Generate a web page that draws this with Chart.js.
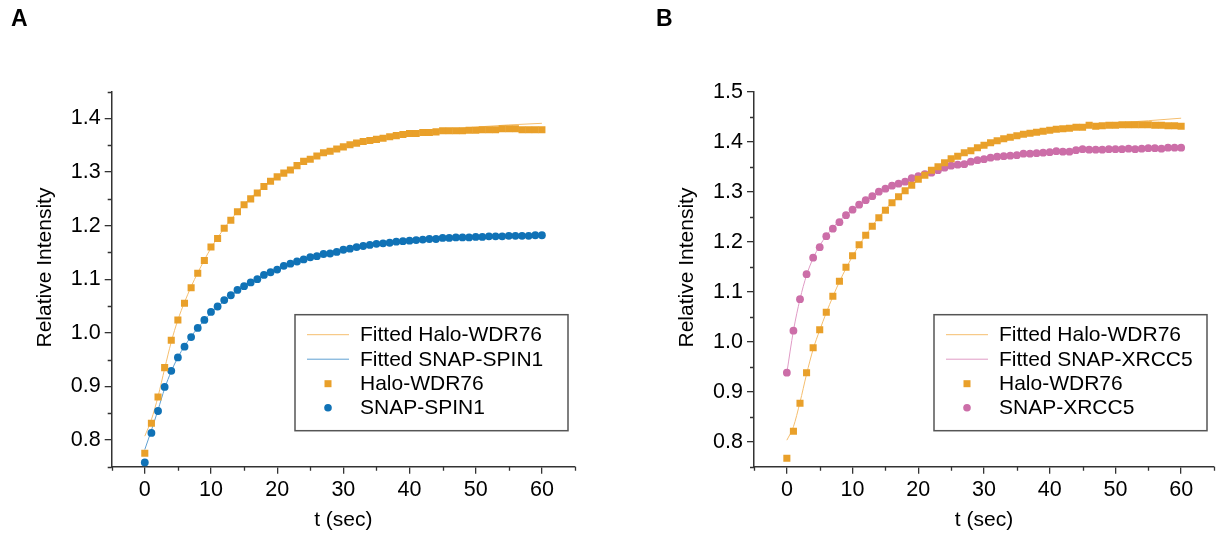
<!DOCTYPE html>
<html>
<head>
<meta charset="utf-8">
<title>Relative Intensity</title>
<script src="https://cdn.jsdelivr.net/npm/chart.js@4.4.1/dist/chart.umd.min.js"></script>
<style>
  body { margin: 0; background: #fff; width: 1219px; height: 536px; position: relative; overflow: hidden; }
  .panel { position: absolute; top: 0; }
  .tag { position: absolute; top: 5px; font: bold 23px "Liberation Sans", Arial, sans-serif; color: #000; }
</style>
</head>
<body>
<canvas id="chartA" class="panel" style="left:0" width="609" height="536"></canvas>
<canvas id="chartB" class="panel" style="left:609px" width="610" height="536"></canvas>
<div class="tag" style="left:11px">A</div>
<div class="tag" style="left:656px">B</div>

<script>
// tiempo de medición (s)
const time = [0, 1, 2, 3, 4, 5, 6, 7, 8, 9, 10, 11, 12, 13, 14, 15, 16, 17, 18, 19, 20,
  21, 22, 23, 24, 25, 26, 27, 28, 29, 30, 31, 32, 33, 34, 35, 36, 37, 38, 39, 40,
  41, 42, 43, 44, 45, 46, 47, 48, 49, 50, 51, 52, 53, 54, 55, 56, 57, 58, 59, 60];

// Panel A: medidas
const haloA = [0.775, 0.831, 0.880, 0.935, 0.986, 1.024, 1.055, 1.084, 1.111, 1.135,
  1.160, 1.176, 1.195, 1.210, 1.226, 1.239, 1.250, 1.261, 1.273, 1.283,
  1.291, 1.298, 1.304, 1.312, 1.320, 1.324, 1.330, 1.336, 1.339, 1.343,
  1.347, 1.351, 1.354, 1.357, 1.359, 1.361, 1.363, 1.366, 1.368, 1.370,
  1.372, 1.372, 1.374, 1.374, 1.375, 1.377, 1.377, 1.377, 1.377, 1.378,
  1.378, 1.379, 1.379, 1.379, 1.381, 1.381, 1.381, 1.379, 1.379, 1.379, 1.379];
const spinA = [0.758, 0.813, 0.854, 0.899, 0.929, 0.954, 0.974, 0.992, 1.009, 1.024,
  1.039, 1.049, 1.061, 1.070, 1.080, 1.087, 1.094, 1.100, 1.108, 1.113,
  1.118, 1.125, 1.129, 1.133, 1.137, 1.141, 1.143, 1.147, 1.148, 1.151,
  1.155, 1.157, 1.160, 1.162, 1.164, 1.166, 1.167, 1.168, 1.170, 1.171,
  1.172, 1.173, 1.174, 1.175, 1.175, 1.177, 1.177, 1.178, 1.178, 1.178,
  1.179, 1.179, 1.180, 1.180, 1.180, 1.181, 1.181, 1.181, 1.181, 1.182, 1.182];

// Panel B: medidas
const haloB = [0.767, 0.821, 0.877, 0.938, 0.988, 1.024, 1.059, 1.091, 1.121, 1.149,
  1.172, 1.194, 1.213, 1.231, 1.248, 1.263, 1.278, 1.290, 1.302, 1.313,
  1.325, 1.333, 1.343, 1.350, 1.358, 1.366, 1.371, 1.378, 1.382, 1.388,
  1.393, 1.398, 1.402, 1.406, 1.409, 1.412, 1.415, 1.417, 1.419, 1.421,
  1.423, 1.425, 1.426, 1.427, 1.429, 1.429, 1.433, 1.431, 1.432, 1.433,
  1.433, 1.434, 1.434, 1.434, 1.434, 1.434, 1.433, 1.433, 1.432, 1.432, 1.431];
const xrccB = [0.938, 1.022, 1.085, 1.135, 1.168, 1.189, 1.211, 1.226, 1.239, 1.253,
  1.264, 1.274, 1.283, 1.291, 1.300, 1.306, 1.312, 1.316, 1.320, 1.327,
  1.331, 1.335, 1.338, 1.343, 1.348, 1.352, 1.354, 1.355, 1.360, 1.363,
  1.365, 1.368, 1.370, 1.371, 1.372, 1.373, 1.376, 1.376, 1.377, 1.378,
  1.379, 1.381, 1.380, 1.380, 1.383, 1.385, 1.384, 1.384, 1.384, 1.385,
  1.385, 1.385, 1.386, 1.385, 1.386, 1.387, 1.387, 1.386, 1.388, 1.388, 1.388];

// curvas ajustadas
const fitTime = [0, 1, 2, 3, 4, 5, 6, 7, 8, 10, 12, 14, 16, 18, 20, 25, 30, 35, 40, 45, 50, 55, 60];
const fitHaloA = [0.807, 0.838, 0.881, 0.933, 0.983, 1.024, 1.057, 1.086, 1.112, 1.158, 1.195, 1.226,
  1.252, 1.273, 1.291, 1.324, 1.347, 1.362, 1.374, 1.379, 1.384, 1.388, 1.391];
const fitSpinA = [0.782, 0.818, 0.856, 0.896, 0.928, 0.954, 0.975, 0.993, 1.009, 1.037, 1.059, 1.078,
  1.094, 1.107, 1.118, 1.140, 1.155, 1.165, 1.172, 1.176, 1.179, 1.181, 1.183];
const fitHaloB = [0.803, 0.830, 0.879, 0.935, 0.985, 1.023, 1.058, 1.090, 1.120, 1.171, 1.213, 1.249,
  1.279, 1.302, 1.323, 1.362, 1.389, 1.408, 1.421, 1.430, 1.437, 1.442, 1.447];
const fitXrccB = [0.938, 1.022, 1.085, 1.133, 1.167, 1.192, 1.212, 1.228, 1.242, 1.264, 1.283, 1.298,
  1.311, 1.322, 1.331, 1.349, 1.363, 1.373, 1.379, 1.383, 1.386, 1.387, 1.388];

const FONT = '"Liberation Sans", Arial, sans-serif';
const ORANGE = "rgb(233, 160, 42)";
const ORANGE_FIT = "rgb(245, 190, 110)";
const BLUE = "rgb(16, 114, 182)";
const BLUE_FIT = "rgb(95, 160, 210)";
const PINK = "rgb(204, 110, 168)";
const PINK_FIT = "rgb(224, 155, 198)";
const AXIS = "#333";

const pairs = (xs, ys) => xs.map((x, i) => ({ x: x, y: ys[i] }));
const isMajor = (v, step) => Math.abs(v / step - Math.round(v / step)) < 1e-6;

const fitLine = (label, xs, ys, color) => ({
  label: label, data: pairs(xs, ys), showLine: true, borderColor: color, borderWidth: 1,
  pointRadius: 0, cubicInterpolationMode: "monotone", order: 2, kind: "line",
});
const marks = (label, ys, color, style, r) => ({
  label: label, data: pairs(time, ys), showLine: false, pointStyle: style, pointRadius: r,
  pointBackgroundColor: color, pointBorderWidth: 0, backgroundColor: color, order: 1, kind: "point",
});

/* ticks menores (cortos) del eje */
const minorTicks = {
  id: "minorTicks",
  afterDraw(chart) {
    const { ctx } = chart;
    const xs = chart.scales.x, ys = chart.scales.y;
    ctx.save();
    ctx.strokeStyle = AXIS;
    ctx.lineWidth = 1.3;
    ctx.beginPath();
    xs.ticks.forEach((t) => {
      if (isMajor(t.value, 10)) return;
      const px = Math.round(xs.getPixelForValue(t.value)) + 0.5;
      ctx.moveTo(px, xs.top);
      ctx.lineTo(px, xs.top + 4);
    });
    ys.ticks.forEach((t) => {
      if (isMajor(t.value, 0.1)) return;
      const py = Math.round(ys.getPixelForValue(t.value)) + 0.5;
      ctx.moveTo(ys.right - 4, py);
      ctx.lineTo(ys.right, py);
    });
    ctx.stroke();
    ctx.restore();
  },
};

/* leyenda con marco dentro del área */
const boxLegend = {
  id: "boxLegend",
  afterDraw(chart, args, opts) {
    const { ctx, chartArea } = chart;
    const w = 273, h = 116;
    const x0 = chartArea.right - 7 - w;
    const y0 = chartArea.top + opts.top;
    ctx.save();
    ctx.strokeStyle = "#555";
    ctx.lineWidth = 1.5;
    ctx.strokeRect(x0, y0, w, h);
    ctx.font = "21px " + FONT;
    ctx.textBaseline = "middle";
    ctx.fillStyle = "#000";
    const rows = [20, 44.5, 69, 93];
    chart.data.datasets.forEach((ds, i) => {
      const cy = y0 + rows[i];
      if (ds.kind === "line") {
        ctx.strokeStyle = ds.borderColor;
        ctx.lineWidth = 1;
        ctx.beginPath();
        ctx.moveTo(x0 + 12, cy);
        ctx.lineTo(x0 + 54, cy);
        ctx.stroke();
      } else {
        ctx.fillStyle = ds.pointBackgroundColor;
        if (ds.pointStyle === "rect") {
          ctx.fillRect(x0 + 33 - 3.5, cy - 3.5, 7, 7);
        } else {
          ctx.beginPath();
          ctx.arc(x0 + 33, cy, 3.8, 0, Math.PI * 2);
          ctx.fill();
        }
      }
      ctx.fillStyle = "#000";
      ctx.fillText(ds.label, x0 + 65, cy + 1);
    });
    ctx.restore();
  },
};

const buildChart = (id, datasets, yMax, yWidth, padRight, titlePad) => {
  const ctx = document.getElementById(id).getContext("2d");
  return new Chart(ctx, {
    type: "scatter",
    data: { datasets: datasets },
    options: {
      responsive: false,
      animation: false,
      devicePixelRatio: 1,
      layout: { padding: { top: 91.7, right: padRight, bottom: 0, left: 0 } },
      plugins: {
        legend: { display: false },
        tooltip: { enabled: false },
        boxLegend: { top: 223 },
      },
      scales: {
        x: {
          type: "linear",
          min: -5,
          max: 65,
          afterFit: (s) => { s.height = 69.3; },
          border: { color: AXIS, width: 1.5 },
          grid: {
            drawOnChartArea: false,
            tickLength: 7,
            lineWidth: 1.3,
            color: (c) => (c.tick && isMajor(c.tick.value, 10) ? AXIS : "rgba(0,0,0,0)"),
          },
          ticks: {
            stepSize: 5,
            autoSkip: false,
            maxRotation: 0,
            padding: 3,
            color: "#000",
            font: { family: FONT, size: 21.5 },
            callback: (v) => (isMajor(v, 10) && v >= 0 && v <= 60 ? String(v) : ""),
          },
          title: {
            display: true,
            text: "t (sec)",
            color: "#000",
            font: { family: FONT, size: 21 },
            padding: { top: 0, bottom: 3 },
          },
        },
        y: {
          min: 0.75,
          max: yMax,
          afterFit: (s) => { s.width = yWidth; },
          border: { color: AXIS, width: 1.5 },
          grid: {
            drawOnChartArea: false,
            tickLength: 7,
            lineWidth: 1.3,
            color: (c) => (c.tick && isMajor(c.tick.value, 0.1) ? AXIS : "rgba(0,0,0,0)"),
          },
          ticks: {
            stepSize: 0.05,
            autoSkip: false,
            padding: 4,
            color: "#000",
            font: { family: FONT, size: 21.5 },
            callback: (v) => (isMajor(v, 0.1) ? v.toFixed(1) : ""),
          },
          title: {
            display: true,
            // espacios al inicio para subir un poco el título, como en el original
            text: "    Relative Intensity",
            color: "#000",
            font: { family: FONT, size: 21 },
            padding: { top: titlePad, bottom: 0 },
          },
        },
      },
    },
    plugins: [minorTicks, boxLegend],
  });
};

buildChart("chartA", [
  fitLine("Fitted Halo-WDR76", fitTime, fitHaloA, ORANGE_FIT),
  fitLine("Fitted SNAP-SPIN1", fitTime, fitSpinA, BLUE_FIT),
  marks("Halo-WDR76", haloA, ORANGE, "rect", 5),
  marks("SNAP-SPIN1", spinA, BLUE, "circle", 3.9),
], 1.45, 111.7, 34, 33);

buildChart("chartB", [
  fitLine("Fitted Halo-WDR76", fitTime, fitHaloB, ORANGE_FIT),
  fitLine("Fitted SNAP-XRCC5", fitTime, fitXrccB, PINK_FIT),
  marks("Halo-WDR76", haloB, ORANGE, "rect", 5),
  marks("SNAP-XRCC5", xrccB, PINK, "circle", 3.9),
], 1.5, 145, 1, 66);
</script>
</body>
</html>
